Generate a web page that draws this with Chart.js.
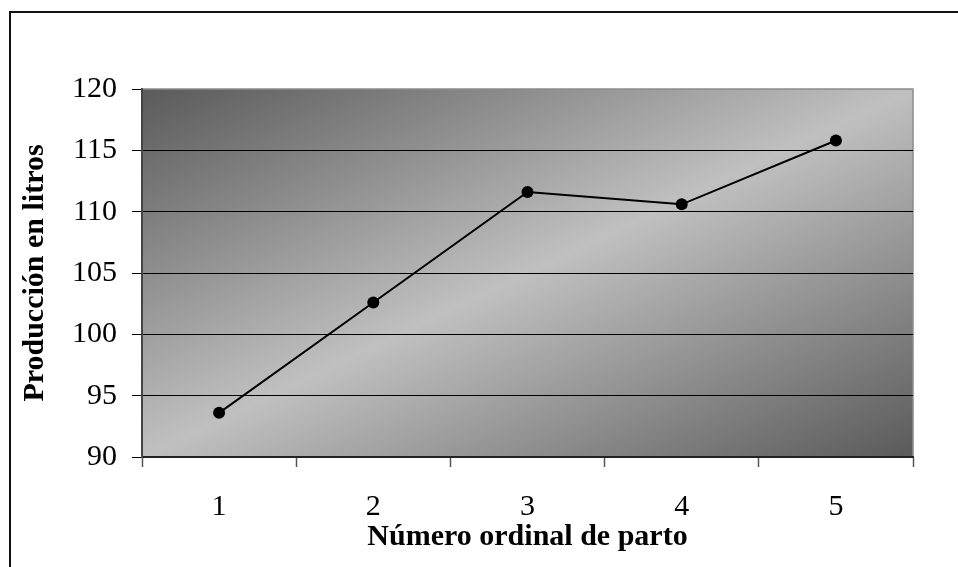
<!DOCTYPE html>
<html>
<head>
<meta charset="utf-8">
<script src="https://cdn.jsdelivr.net/npm/chart.js@4/dist/chart.umd.min.js"></script>
<style>
  html, body { margin: 0; padding: 0; background: #fff; overflow: hidden; }
  #wrap { position: relative; width: 958px; height: 567px; }
  #frame {
    position: absolute; left: 9px; top: 11px; width: 2000px; height: 2000px;
    border-left: 2px solid #111; border-top: 2px solid #111; box-sizing: border-box;
  }
  canvas { position: absolute; left: 0; top: 0; }
</style>
</head>
<body>
<div id="wrap">
  <div id="frame"></div>
  <canvas id="chart" width="958" height="567"></canvas>
</div>
<script>
// Parity number and mean milk production (litres)
const categories = ['1', '2', '3', '4', '5'];
const production = [93.6, 102.6, 111.6, 110.6, 115.8];
const yMin = 90;
const yMax = 120;
const yStep = 5;

const serif = "'Liberation Serif', 'Times New Roman', serif";

// Diagonal two-tone fill of the plot area with a grey frame
const plotBackground = {
  id: 'plotBackground',
  beforeDraw(chart) {
    const { ctx, chartArea: { left, top, right, bottom } } = chart;
    const w = right - left, h = bottom - top;
    const k = 2 * w * h / (w * w + h * h);
    const g = ctx.createLinearGradient(left, top, left + h * k, top + w * k);
    g.addColorStop(0, '#5a5a5a');
    g.addColorStop(0.5, '#c0c0c0');
    g.addColorStop(1, '#5a5a5a');
    ctx.save();
    ctx.fillStyle = g;
    ctx.fillRect(left, top, w, h);
    ctx.strokeStyle = '#8c8c8c';
    ctx.lineWidth = 1.5;
    ctx.strokeRect(left, top, w, h);
    ctx.restore();
  }
};

new Chart(document.getElementById('chart'), {
  type: 'line',
  data: {
    labels: categories,
    datasets: [{
      data: production,
      borderColor: '#000',
      borderWidth: 2,
      tension: 0,
      pointRadius: 6,
      pointBackgroundColor: '#000',
      pointBorderWidth: 0,
      fill: false
    }]
  },
  options: {
    responsive: false,
    animation: false,
    events: [],
    layout: { padding: { top: 89, right: 45, left: 0, bottom: 0 } },
    plugins: { legend: { display: false }, tooltip: { enabled: false } },
    scales: {
      x: {
        type: 'category',
        offset: true,
        afterFit(scale) { scale.height = 110; },
        grid: {
          offset: true,
          drawOnChartArea: false,
          drawTicks: true,
          tickLength: 10,
          tickColor: '#555',
          tickWidth: 1.5
        },
        border: { display: true, color: '#222', width: 2 },
        ticks: {
          color: '#000',
          padding: 22,
          font: { family: serif, size: 30 }
        },
        title: {
          display: true,
          text: 'Número ordinal de parto',
          color: '#000',
          font: { family: serif, size: 30, weight: 'bold', lineHeight: 1.2 },
          padding: { top: 0, bottom: 12 }
        }
      },
      y: {
        min: yMin,
        max: yMax,
        afterFit(scale) { scale.width = 142; },
        grid: {
          color: (c) => (c.tick && c.tick.value === yMax) ? 'rgba(0,0,0,0)' : '#000',
          lineWidth: 1,
          drawTicks: true,
          tickLength: 10,
          tickColor: '#000'
        },
        border: { display: true, color: '#444', width: 2 },
        ticks: {
          stepSize: yStep,
          color: '#000',
          padding: 15,
          font: { family: serif, size: 30 }
        },
        title: {
          display: true,
          text: 'Producción en litros',
          color: '#000',
          font: { family: serif, size: 30, weight: 'bold', lineHeight: 1.2 },
          padding: { top: 17, bottom: 0 }
        }
      }
    }
  },
  plugins: [plotBackground]
});
</script>
</body>
</html>
